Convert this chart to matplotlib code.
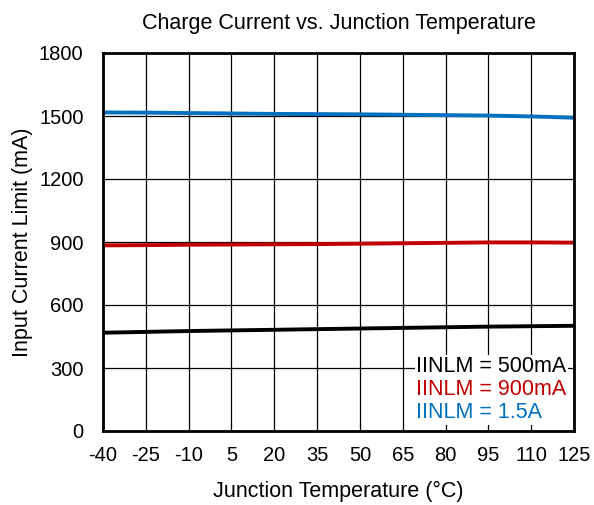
import matplotlib.pyplot as plt
import numpy as np

plt.rcParams['font.family'] = ['Liberation Sans', 'DejaVu Sans']
plt.rcParams['axes.unicode_minus'] = False

temp = [-40, -25, -10, 5, 20, 35, 50, 65, 80, 95, 110, 125]
i500 = [468, 472, 476, 479, 482, 485, 488, 491, 494, 497, 499, 501]
i900 = [884, 885, 887, 888, 889, 890, 892, 894, 896, 898, 898, 897]
i15 = [1517, 1516, 1514, 1512, 1510, 1509, 1508, 1506, 1504, 1502, 1498, 1492]
labels = ['IINLM = 500mA', 'IINLM = 900mA', 'IINLM = 1.5A']
colors = ['#000000', '#C00000', '#0070C0']

fig = plt.figure(figsize=(5.94, 5.05), dpi=100)
ax = fig.add_axes([103/594, 1-431/505, 471/594, 378/505])

for y, lab, c in zip([i500, i900, i15], labels, colors):
    ax.plot(temp, y, color=c, lw=2.8, label=lab, solid_capstyle='butt')

ax.set_xlim(-40, 125)
ax.set_ylim(0, 1800)
ax.set_xticks(np.arange(-40, 126, 15))
ax.set_yticks(np.arange(0, 1801, 300))
ax.grid(True, color='black', lw=0.9)
ax.set_axisbelow(True)
ax.tick_params(length=0, labelsize=14.5)
ax.tick_params(axis='y', pad=14)
ax.tick_params(axis='x', pad=11)
for s in ax.spines.values():
    s.set_linewidth(2)

ax.set_title('Charge Current vs. Junction Temperature', fontsize=15.5, pad=17)
ax.set_xlabel('Junction Temperature (\u00b0C)', fontsize=15.5, labelpad=11)
ax.set_ylabel('Input Current Limit (mA)', fontsize=15.5, labelpad=4)

leg = ax.legend(loc='lower right', handlelength=0, handletextpad=0,
                fontsize=15.5, frameon=True, framealpha=1, edgecolor='none',
                borderpad=0.05, labelspacing=0.1, borderaxespad=0.3,
                fancybox=False)
for t, c in zip(leg.get_texts(), colors):
    t.set_color(c)
for h in leg.legend_handles:
    h.set_visible(False)

fig.savefig('out.png', dpi=100)
